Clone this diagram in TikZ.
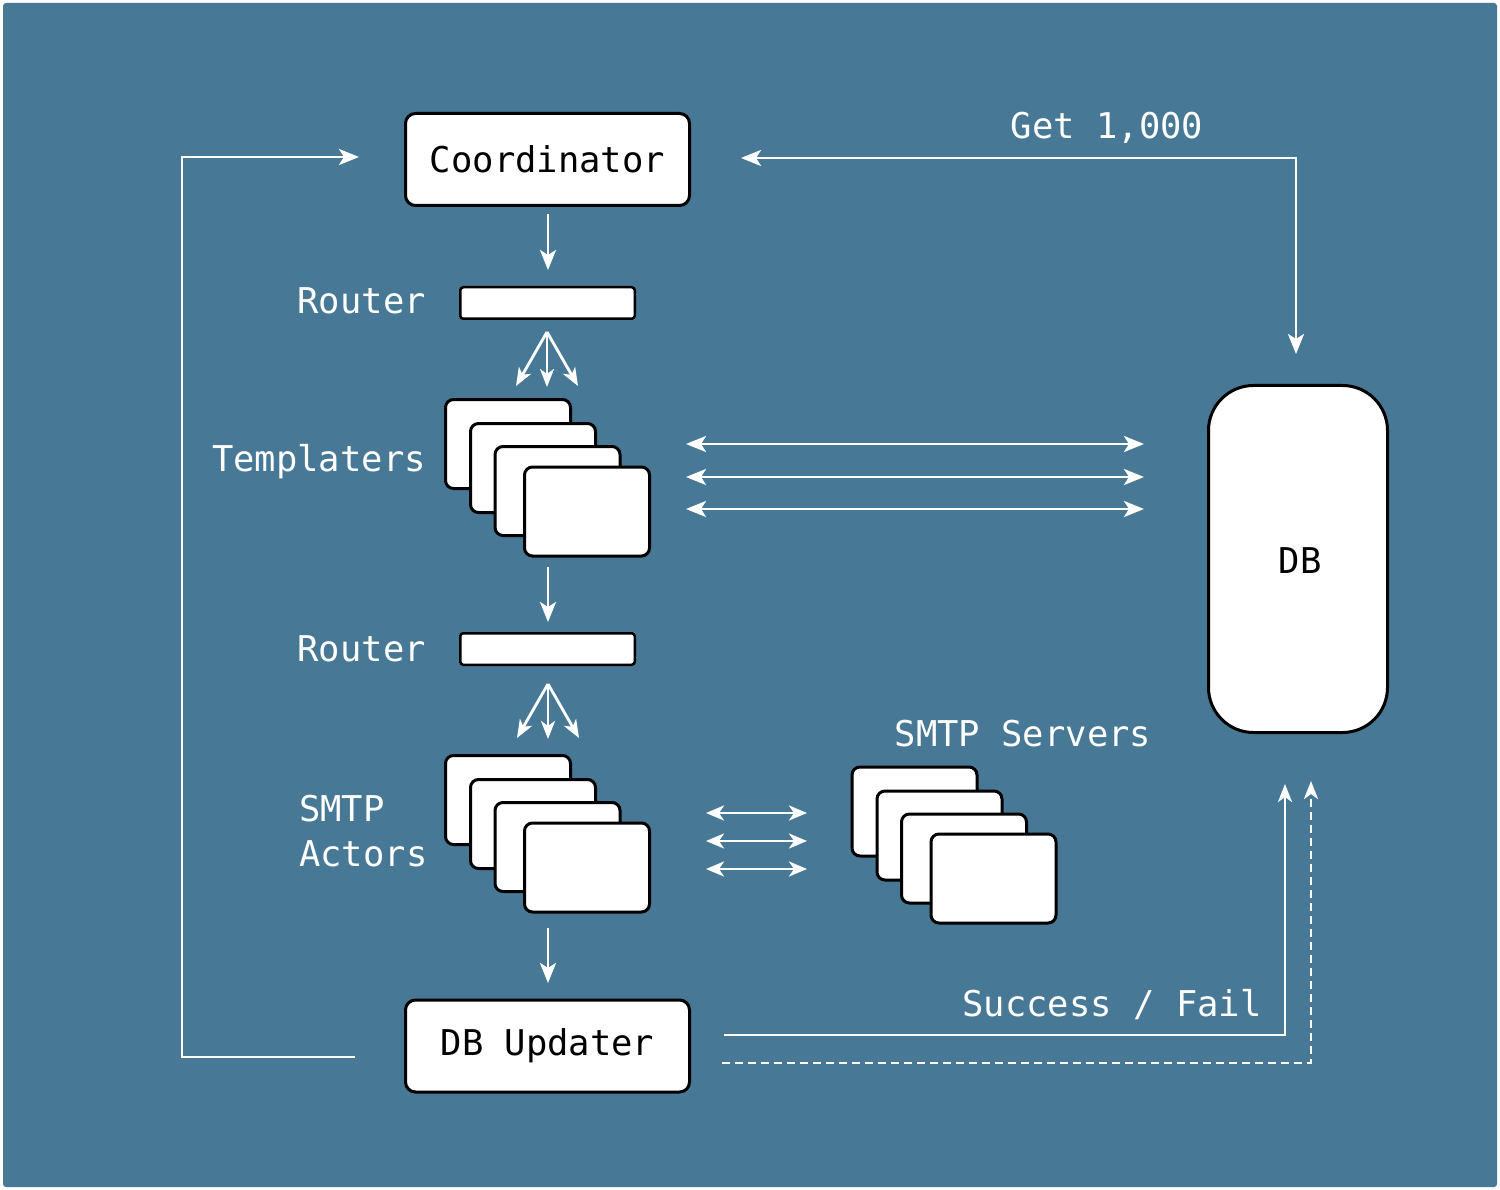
\documentclass[tikz,border=0pt]{standalone}
\usepackage{fontspec}
\setmainfont{DejaVu Sans Mono}
\usetikzlibrary{arrows.meta}
\definecolor{bg}{HTML}{477895}
\begin{document}
\begin{tikzpicture}[x=1pt,y=-1pt,
  txt/.style={font=\fontsize{35.5}{45}\selectfont, inner sep=0pt},
  lbl/.style={txt, text=white},
  box/.style={txt, draw=black, line width=3pt, fill=white, rounded corners=10pt,
    minimum width=284pt, minimum height=92pt},
  bar/.style={draw=black, line width=2.5pt, fill=white, rounded corners=3pt,
    minimum width=174.5pt, minimum height=31.5pt, inner sep=0pt},
  card/.style={draw=black, line width=3pt, fill=white, rounded corners=8pt,
    minimum width=125pt, minimum height=89pt, inner sep=0pt},
  wire/.style={draw=white, line width=2.8pt},
  arr/.style={wire, -{Stealth[length=20pt, width=16pt, inset=5pt]}},
  arrs/.style={wire, -{Stealth[length=18pt, width=14pt, inset=5pt]}},
  biarr/.style={wire, {Stealth[length=20pt, width=16pt, inset=5pt]}-{Stealth[length=20pt, width=16pt, inset=5pt]}},
  biarrs/.style={wire, {Stealth[length=18pt, width=15pt, inset=5pt]}-{Stealth[length=18pt, width=15pt, inset=5pt]}},
]
\useasboundingbox (0,0) rectangle (1500,1190);
\fill[white] (0,0) rectangle (1500,1190);
\fill[bg, rounded corners=3pt] (3,3) rectangle (1497,1187);

% main boxes
\node[box] (coord) at (547.5,159.5) {Coordinator};
\node[box] (upd) at (547.5,1046) {DB Updater};
\node[bar] (r1) at (547.5,303) {};
\node[bar] (r2) at (547.5,649) {};
\node[draw=black, line width=3pt, fill=white, rounded corners=45pt,
  minimum width=179pt, minimum height=347pt, inner sep=0pt, txt] (db) at (1298,559) {};
\node[txt] (dbt) at (1300,561) {DB};

% templater stack
\node[card] (t1) at (508,444) {};
\node[card] (t2) at (533,468) {};
\node[card] (t3) at (557.5,491) {};
\node[card] (t4) at (587,511.5) {};

% SMTP actor stack
\node[card] (a1) at (508,800) {};
\node[card] (a2) at (533,824) {};
\node[card] (a3) at (557.5,847) {};
\node[card] (a4) at (587,867.5) {};

% SMTP server stack
\node[card] (s1) at (914.5,811.5) {};
\node[card] (s2) at (939.5,835.5) {};
\node[card] (s3) at (964,858.5) {};
\node[card] (s4) at (993.5,878.5) {};

% labels
\node[lbl, anchor=base east] (lr1) at (426,314) {Router};
\node[lbl, anchor=base east] (lr2) at (426,661) {Router};
\node[lbl, anchor=base east] (lt) at (426,471) {Templaters};
\node[lbl, anchor=west, align=left] (la) at (299,831) {SMTP\\Actors};
\node[lbl] (ls) at (1023,734) {SMTP Servers};
\node[lbl] (lg) at (1107,128) {Get 1,000};
\node[lbl] (lsf) at (1112,1005) {Success / Fail};

% vertical flow
\coordinate (c1a) at (548,214); \coordinate (c1b) at (548,270);
\draw[arr] (c1a) -- (c1b);
\coordinate (f1) at (547,332);
\coordinate (f1a) at (516,386); \coordinate (f1b) at (547,387); \coordinate (f1c) at (578,386);
\draw[arrs] (f1) -- (f1a);
\draw[arrs] (f1) -- (f1b);
\draw[arrs] (f1) -- (f1c);
\coordinate (c2a) at (548,567); \coordinate (c2b) at (548,622);
\draw[arr] (c2a) -- (c2b);
\coordinate (f2) at (548,684);
\coordinate (f2a) at (517,738); \coordinate (f2b) at (548,739); \coordinate (f2c) at (579,738);
\draw[arrs] (f2) -- (f2a);
\draw[arrs] (f2) -- (f2b);
\draw[arrs] (f2) -- (f2c);
\coordinate (c3a) at (548,928); \coordinate (c3b) at (548,983);
\draw[arr] (c3a) -- (c3b);

% feedback loop to the coordinator
\coordinate (la0) at (355,1057); \coordinate (lac) at (182,157); \coordinate (la1) at (359,157);
\draw[arr] (la0) -| (lac) -- (la1);

% batch fetch
\coordinate (g0) at (741,158); \coordinate (g1) at (1296,354);
\draw[biarr] (g0) -| (g1);

% templaters <-> DB
\foreach \y/\n in {444/1,477/2,509/3}{
  \coordinate (td\n a) at (686,\y); \coordinate (td\n b) at (1144,\y);
  \draw[biarr] (td\n a) -- (td\n b);
}

% actors <-> servers
\foreach \y/\n in {813/1,841/2,869/3}{
  \coordinate (as\n a) at (706,\y); \coordinate (as\n b) at (807,\y);
  \draw[biarrs] (as\n a) -- (as\n b);
}

% results back to DB
\coordinate (sf0) at (724,1035); \coordinate (sf1) at (1285,784);
\draw[arrs] (sf0) -| (sf1);
\coordinate (sd0) at (722,1063); \coordinate (sd1) at (1311,781);
\draw[arrs, dash pattern=on 8pt off 5pt] (sd0) -| (sd1);
\end{tikzpicture}
\end{document}
